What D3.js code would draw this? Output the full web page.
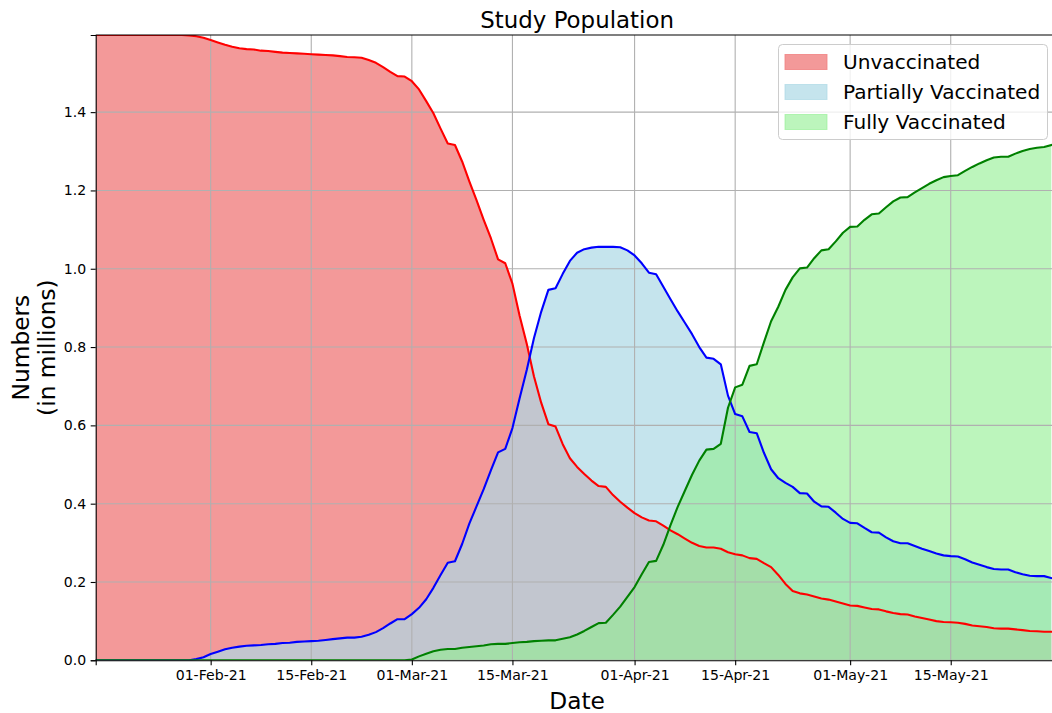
<!DOCTYPE html>
<html><head><meta charset="utf-8">
<script src="https://cdn.jsdelivr.net/npm/d3@7"></script>
<style>
body{margin:0;background:#fff}
svg{display:block}
text{font-family:"DejaVu Sans",sans-serif;fill:#000}
</style>
</head><body>
<svg id="chart" width="1052" height="713"></svg>
<script>
// ---- data (millions), one value per day starting 16-Jan-2021 ----
const startDate = "2021-01-16";
const endDate = "2021-05-30";
const unvaccinated = [
1.597,1.597,1.597,1.597,1.597,1.597,1.597,1.597,1.597,1.597,
1.597,1.597,1.597,1.596,1.594,1.590,1.584,1.578,1.572,1.567,
1.563,1.561,1.560,1.557,1.556,1.554,1.552,1.551,1.550,1.549,
1.548,1.547,1.546,1.545,1.543,1.541,1.540,1.539,1.533,1.526,
1.515,1.503,1.492,1.491,1.479,1.458,1.428,1.397,1.358,1.320,
1.316,1.274,1.223,1.175,1.125,1.078,1.024,1.014,0.962,0.880,
0.808,0.725,0.658,0.603,0.597,0.552,0.516,0.494,0.476,0.459,
0.445,0.443,0.422,0.405,0.390,0.376,0.365,0.357,0.355,0.344,
0.332,0.322,0.311,0.300,0.292,0.288,0.288,0.285,0.276,0.271,
0.268,0.261,0.259,0.248,0.238,0.218,0.195,0.177,0.171,0.168,
0.163,0.158,0.155,0.150,0.145,0.140,0.139,0.135,0.131,0.130,
0.125,0.121,0.118,0.117,0.112,0.108,0.104,0.100,0.098,0.097,
0.096,0.093,0.089,0.087,0.085,0.082,0.081,0.081,0.079,0.077,
0.075,0.074,0.073,0.073];
const partiallyVaccinated = [
0,0,0,0,0,0,0,0,0,0,
0,0,0,0,0.003,0.008,0.016,0.022,0.028,0.032,
0.035,0.037,0.038,0.039,0.041,0.042,0.044,0.045,0.047,0.048,
0.049,0.050,0.052,0.054,0.056,0.058,0.058,0.060,0.065,0.072,
0.082,0.094,0.105,0.105,0.118,0.134,0.156,0.185,0.218,0.249,
0.253,0.297,0.349,0.393,0.437,0.485,0.531,0.540,0.593,0.669,
0.742,0.823,0.890,0.946,0.950,0.987,1.020,1.041,1.050,1.054,
1.056,1.056,1.056,1.055,1.047,1.034,1.014,0.990,0.986,0.954,
0.922,0.891,0.862,0.833,0.800,0.773,0.770,0.756,0.676,0.629,
0.623,0.583,0.580,0.530,0.488,0.465,0.453,0.443,0.427,0.426,
0.405,0.393,0.392,0.377,0.361,0.351,0.350,0.338,0.327,0.326,
0.314,0.304,0.299,0.299,0.292,0.285,0.279,0.273,0.268,0.266,
0.265,0.258,0.250,0.244,0.238,0.233,0.232,0.232,0.225,0.220,
0.216,0.215,0.215,0.210];
const fullyVaccinated = [
0,0,0,0,0,0,0,0,0,0,
0,0,0,0,0,0,0,0,0,0,
0,0,0,0,0,0,0,0,0,0,
0,0,0,0,0,0,0,0,0,0,
0,0,0,0,0.002,0.010,0.017,0.023,0.027,0.029,
0.029,0.032,0.034,0.036,0.038,0.041,0.042,0.042,0.044,0.046,
0.047,0.049,0.050,0.051,0.051,0.055,0.059,0.066,0.075,0.085,
0.095,0.096,0.116,0.137,0.162,0.187,0.220,0.251,0.254,0.295,
0.345,0.392,0.433,0.474,0.510,0.538,0.540,0.553,0.645,0.697,
0.704,0.752,0.756,0.812,0.866,0.903,0.946,0.978,1.001,1.003,
1.027,1.047,1.050,1.070,1.092,1.107,1.108,1.125,1.139,1.141,
1.157,1.172,1.182,1.183,1.195,1.206,1.217,1.226,1.234,1.237,
1.239,1.250,1.260,1.269,1.277,1.284,1.286,1.286,1.294,1.301,
1.306,1.309,1.311,1.316];
const seriesNames = ["Unvaccinated","Partially Vaccinated","Fully Vaccinated"];
const xTickDates = ["2021-02-01","2021-02-15","2021-03-01","2021-03-15","2021-04-01","2021-04-15","2021-05-01","2021-05-15"];
const xTickLabels = ["01-Feb-21","15-Feb-21","01-Mar-21","15-Mar-21","01-Apr-21","15-Apr-21","01-May-21","15-May-21"];
const yTicks = [0,0.2,0.4,0.6,0.8,1.0,1.2,1.4];
const yTickLabels = ["0.0","0.2","0.4","0.6","0.8","1.0","1.2","1.4"];

// ---- styles ----
const fillColors = ["lightcoral","lightblue","lightgreen"];
const fillAlpha = [0.8,0.7,0.6];
const lineColors = ["red","blue","green"];

const parse = d3.utcParse("%Y-%m-%d");
const start = parse(startDate);
const series = [unvaccinated, partiallyVaccinated, fullyVaccinated];
const dates = unvaccinated.map((_, i) => d3.utcDay.offset(start, i));

const L = 95.7, R = 1058.5, T = 35, B = 660.3;
const x = d3.scaleUtc().domain([start, parse(endDate)]).range([L, R]);
const y = d3.scaleLinear().domain([0, d3.max(series.flat())]).range([B, T]);

const svg = d3.select("#chart");
svg.append("defs").append("clipPath").attr("id","clip")
  .append("rect").attr("x",L).attr("y",T).attr("width",R-L).attr("height",B-T);
const plot = svg.append("g").attr("clip-path","url(#clip)");

// fills
series.forEach((vals, k) => {
  const area = d3.area().x((d,i)=>x(dates[i])).y0(y(0)).y1(d=>y(d));
  plot.append("path").datum(vals).attr("d", area)
    .attr("fill", fillColors[k]).attr("fill-opacity", fillAlpha[k]).attr("stroke","none");
});

// grid
const xTicks = xTickDates.map(parse);
const grid = plot.append("g").attr("stroke","#b0b0b0").attr("stroke-width",1.1);
grid.selectAll("line.v").data(xTicks).join("line")
  .attr("x1",d=>x(d)).attr("x2",d=>x(d)).attr("y1",T).attr("y2",B);
grid.selectAll("line.h").data(yTicks).join("line")
  .attr("x1",L).attr("x2",R).attr("y1",d=>y(d)).attr("y2",d=>y(d));

// lines
series.forEach((vals, k) => {
  const line = d3.line().x((d,i)=>x(dates[i])).y(d=>y(d));
  plot.append("path").datum(vals).attr("d", line)
    .attr("fill","none").attr("stroke", lineColors[k]).attr("stroke-width",2.1)
    .attr("stroke-linejoin","round").attr("stroke-linecap","square");
});

// axes
const xAxis = d3.axisBottom(x).tickValues(xTicks)
  .tickFormat((d,i)=>xTickLabels[i]).tickSizeOuter(0).tickSize(5).tickPadding(4.5);
const gx = svg.append("g").attr("transform",`translate(0,${B})`).call(xAxis);
const yAxis = d3.axisLeft(y).tickValues(yTicks)
  .tickFormat((d,i)=>yTickLabels[i]).tickSizeOuter(0).tickSize(5).tickPadding(4.5);
const gy = svg.append("g").attr("transform",`translate(${L},0)`).call(yAxis);
[gx, gy].forEach(g => {
  g.selectAll("text").attr("font-size",14.1).attr("font-family","DejaVu Sans").attr("fill","#000");
  g.selectAll("line").attr("stroke","#000").attr("stroke-width",1.1);
  g.select(".domain").attr("stroke","#000").attr("stroke-width",1.1);
});
// top spine
svg.append("line").attr("x1",L).attr("x2",R).attr("y1",T).attr("y2",T)
  .attr("stroke","#000").attr("stroke-width",1.1);

// titles
svg.append("text").attr("x",(L+R)/2).attr("y",27.5).attr("text-anchor","middle")
  .attr("font-size",22.9).text("Study Population");
svg.append("text").attr("x",(L+R)/2).attr("y",709).attr("text-anchor","middle")
  .attr("font-size",23.3).text("Date");
const yl = svg.append("text").attr("transform",`translate(0,${(T+B)/2}) rotate(-90)`)
  .attr("text-anchor","middle").attr("font-size",23.3);
yl.append("tspan").attr("x",0).attr("y",29).text("Numbers");
yl.append("tspan").attr("x",0).attr("y",55).text("(in millions)");

// legend
const lg = svg.append("g");
lg.append("rect").attr("x",778.5).attr("y",44.5).attr("width",269).attr("height",95).attr("rx",4)
  .attr("fill","#fff").attr("fill-opacity",0.8).attr("stroke","#cccccc").attr("stroke-width",1);
seriesNames.forEach((name, k) => {
  const cy = 62 + k*30;
  lg.append("rect").attr("x",785).attr("y",cy-7.5).attr("width",42).attr("height",15)
    .attr("fill",fillColors[k]).attr("fill-opacity",fillAlpha[k])
    .attr("stroke",fillColors[k]).attr("stroke-opacity",fillAlpha[k]);
  lg.append("text").attr("x",843).attr("y",cy+7).attr("font-size",20.1).text(name);
});
</script>
</body></html>
